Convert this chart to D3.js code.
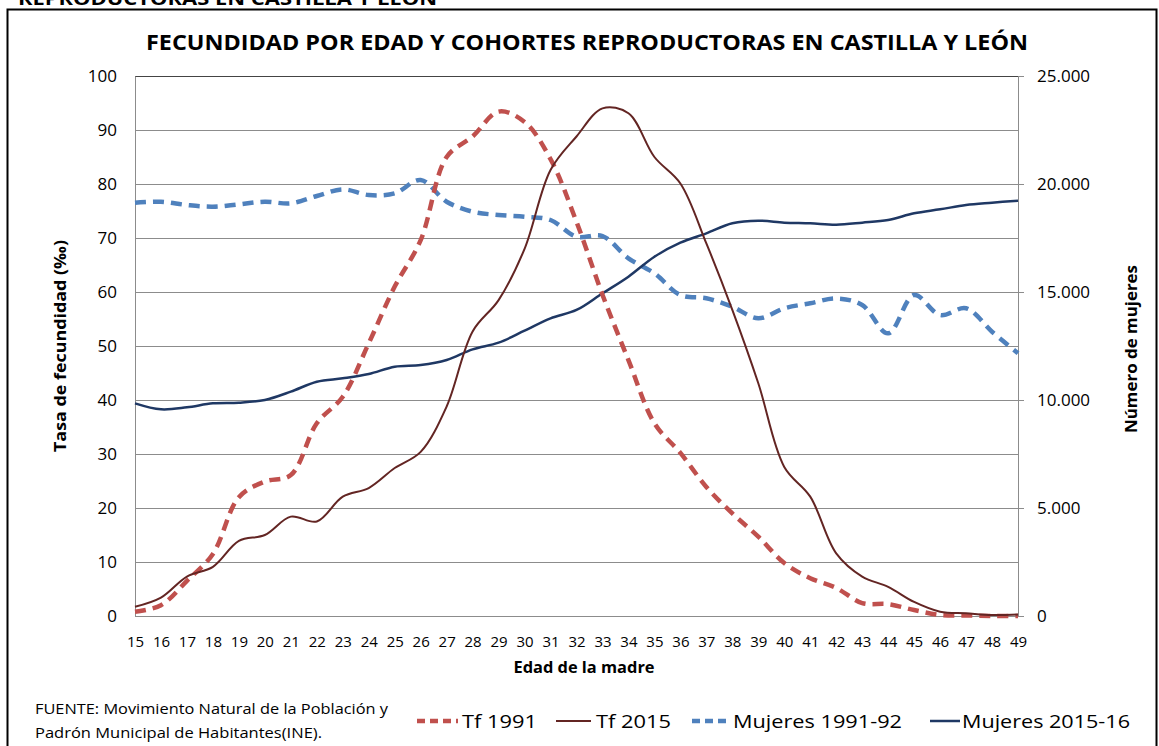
<!DOCTYPE html>
<html>
<head>
<meta charset="utf-8">
<script src="https://cdn.jsdelivr.net/npm/d3@7"></script>
<style>
  html, body { margin: 0; padding: 0; background: #fff; }
  svg { display: block; }
  text { font-family: "Open Sans", "Noto Sans", sans-serif; fill: #000; }
</style>
</head>
<body>
<svg id="chart" width="1159" height="746"></svg>
<script>
// Edad de la madre (15 a 49 años)
const ages = d3.range(15, 50);

// Tasa de fecundidad (por mil) – 1991
const tf1991 = [0.8, 2.0, 6.5, 11.5, 22.0, 24.9, 26.1, 35.7, 40.6, 50.5,
                61.0, 69.6, 85.0, 88.8, 93.4, 91.5, 84.6, 73.0, 59.5, 47.4,
                35.7, 30.2, 23.9, 19.0, 14.7, 9.8, 7.0, 5.2, 2.4, 2.2,
                1.1, 0.2, 0.1, 0.0, 0.0];

// Tasa de fecundidad (por mil) – 2015
const tf2015 = [1.7, 3.4, 7.3, 9.1, 13.9, 15.0, 18.4, 17.5, 22.1, 23.7,
                27.4, 30.4, 38.8, 52.7, 58.5, 68.0, 82.6, 88.8, 94.0, 93.1,
                85.0, 80.1, 69.0, 56.7, 43.1, 27.6, 22.1, 11.6, 7.3, 5.4,
                2.6, 0.8, 0.5, 0.2, 0.3];

// Número de mujeres por edad – padrón 1991-92
const mujeres1991 = [19134, 19180, 19028, 18950, 19060, 19180, 19105, 19444, 19753, 19490,
                     19568, 20185, 19180, 18718, 18565, 18486, 18333, 17560, 17592, 16560,
                     15866, 14861, 14708, 14319, 13782, 14245, 14477, 14700, 14398, 13088,
                     14861, 13935, 14245, 13162, 12162];

// Número de mujeres por edad – padrón 2015-16
const mujeres2015 = [9846, 9568, 9661, 9846, 9877, 10000, 10385, 10848, 11003, 11204,
                     11543, 11620, 11852, 12346, 12654, 13210, 13782, 14167, 14939, 15710,
                     16635, 17284, 17716, 18179, 18302, 18210, 18179, 18117, 18210, 18333,
                     18642, 18827, 19028, 19134, 19228];

const leftTicks = [0, 10, 20, 30, 40, 50, 60, 70, 80, 90, 100];
const rightTicks = [0, 5000, 10000, 15000, 20000, 25000];

const svg = d3.select("#chart");

const plot = { left: 135, right: 1018, top: 76, bottom: 616 };

const x = d3.scaleLinear().domain([15, 49]).range([plot.left, plot.right]);
const yL = d3.scaleLinear().domain([0, 100]).range([plot.bottom, plot.top]);
const yR = d3.scaleLinear().domain([0, 25000]).range([plot.bottom, plot.top]);

const fmtMiles = v => d3.format(",")(v).replace(/,/g, ".");

// Marco exterior
svg.append("rect")
  .attr("x", 7.5).attr("y", 9.5)
  .attr("width", 1149).attr("height", 760)
  .attr("fill", "none").attr("stroke", "#000").attr("stroke-width", 2);

// Encabezado recortado en la parte superior
svg.append("text")
  .attr("x", 18).attr("y", 5)
  .attr("font-family", "Liberation Sans, Arial, sans-serif")
  .attr("font-weight", "bold").attr("font-size", 17)
  .attr("textLength", 419).attr("lengthAdjust", "spacingAndGlyphs")
  .text("REPRODUCTORAS EN CASTILLA Y LEÓN");

// Título
svg.append("text")
  .attr("x", 587).attr("y", 50)
  .attr("text-anchor", "middle")
  .attr("font-weight", "bold").attr("font-size", 21)
  .attr("textLength", 882).attr("lengthAdjust", "spacingAndGlyphs")
  .text("FECUNDIDAD POR EDAD Y COHORTES REPRODUCTORAS EN CASTILLA Y LEÓN");

// Líneas de cuadrícula
svg.append("g")
  .selectAll("line")
  .data(leftTicks)
  .join("line")
  .attr("x1", plot.left).attr("x2", plot.right)
  .attr("y1", d => Math.round(yL(d)) + 0.5).attr("y2", d => Math.round(yL(d)) + 0.5)
  .attr("stroke", d => d === 100 ? "#444" : "#8c8c8c")
  .attr("stroke-width", 1);

// Eje izquierdo
const gL = svg.append("g").attr("transform", `translate(${plot.left},0)`)
  .call(d3.axisLeft(yL).tickValues(leftTicks).tickSize(0).tickPadding(18));
gL.select(".domain").attr("stroke", "#8c8c8c");
gL.selectAll("text").attr("font-size", 17).attr("font-family", "Open Sans, sans-serif").attr("fill", "#000");

// Eje derecho
const gR = svg.append("g").attr("transform", `translate(${plot.right},0)`)
  .call(d3.axisRight(yR).tickValues(rightTicks).tickFormat(fmtMiles).tickSize(6).tickPadding(13));
gR.select(".domain").attr("stroke", "#8c8c8c").attr("d", `M0.5,${plot.top}V${plot.bottom}`);
gR.selectAll(".tick line").attr("stroke", "#8c8c8c");
gR.selectAll("text").attr("font-size", 17).attr("font-family", "Open Sans, sans-serif").attr("fill", "#000");

// Eje inferior (edades)
const gB = svg.append("g").attr("transform", `translate(0,${plot.bottom})`)
  .call(d3.axisBottom(x).tickValues(ages).tickFormat(d3.format("d")).tickSize(0).tickPadding(20));
gB.select(".domain").attr("stroke", "#8c8c8c");
gB.selectAll("text").attr("font-size", 15).attr("font-family", "Open Sans, sans-serif").attr("fill", "#000");

// Títulos de ejes
svg.append("text")
  .attr("x", 584).attr("y", 673)
  .attr("text-anchor", "middle")
  .attr("font-weight", "bold").attr("font-size", 16)
  .attr("textLength", 141).attr("lengthAdjust", "spacingAndGlyphs")
  .text("Edad de la madre");

svg.append("text")
  .attr("transform", "translate(66,346) rotate(-90)")
  .attr("text-anchor", "middle")
  .attr("font-weight", "bold").attr("font-size", 16)
  .attr("textLength", 212).attr("lengthAdjust", "spacingAndGlyphs")
  .text("Tasa de fecundidad (‰)");

svg.append("text")
  .attr("transform", "translate(1137,349) rotate(-90)")
  .attr("text-anchor", "middle")
  .attr("font-weight", "bold").attr("font-size", 16)
  .attr("textLength", 168).attr("lengthAdjust", "spacingAndGlyphs")
  .text("Número de mujeres");

// Series
const curve = d3.curveCatmullRom.alpha(0.5);
const lineL = d3.line().x((d, i) => x(ages[i])).y(d => yL(d)).curve(curve);
const lineR = d3.line().x((d, i) => x(ages[i])).y(d => yR(d)).curve(curve);

const series = [
  { name: "Mujeres 1991-92", data: mujeres1991, line: lineR, color: "#4F81BD", width: 4.5, dash: "11,7" },
  { name: "Mujeres 2015-16", data: mujeres2015, line: lineR, color: "#1F3864", width: 2.5, dash: null },
  { name: "Tf 1991", data: tf1991, line: lineL, color: "#C0504D", width: 4.5, dash: "11,7" },
  { name: "Tf 2015", data: tf2015, line: lineL, color: "#632523", width: 2, dash: null }
];

svg.append("g")
  .selectAll("path")
  .data(series)
  .join("path")
  .attr("d", s => s.line(s.data))
  .attr("fill", "none")
  .attr("stroke", s => s.color)
  .attr("stroke-width", s => s.width)
  .attr("stroke-dasharray", s => s.dash)
  .attr("stroke-linejoin", "round");

// Fuente
svg.append("text")
  .attr("x", 35).attr("y", 714)
  .attr("font-size", 14)
  .attr("textLength", 353).attr("lengthAdjust", "spacingAndGlyphs")
  .text("FUENTE: Movimiento Natural de la Población y");
svg.append("text")
  .attr("x", 35).attr("y", 738)
  .attr("font-size", 14)
  .attr("textLength", 287).attr("lengthAdjust", "spacingAndGlyphs")
  .text("Padrón Municipal de Habitantes(INE).");

// Leyenda
const legend = [
  { s: series[2], x1: 417, x2: 458, tx: 462, tw: 75 },
  { s: series[3], x1: 556, x2: 591, tx: 596, tw: 75 },
  { s: series[0], x1: 692, x2: 730, tx: 733, tw: 169 },
  { s: series[1], x1: 930, x2: 960, tx: 962, tw: 168 }
];
const lg = svg.append("g").selectAll("g").data(legend).join("g");
lg.append("line")
  .attr("x1", d => d.x1).attr("x2", d => d.x2)
  .attr("y1", 721).attr("y2", 721)
  .attr("stroke", d => d.s.color)
  .attr("stroke-width", d => d.s.width)
  .attr("stroke-dasharray", d => d.s.dash ? "8,5" : null);
lg.append("text")
  .attr("x", d => d.tx).attr("y", 728)
  .attr("font-size", 19)
  .attr("textLength", d => d.tw).attr("lengthAdjust", "spacingAndGlyphs")
  .text(d => d.s.name);
</script>
</body>
</html>
